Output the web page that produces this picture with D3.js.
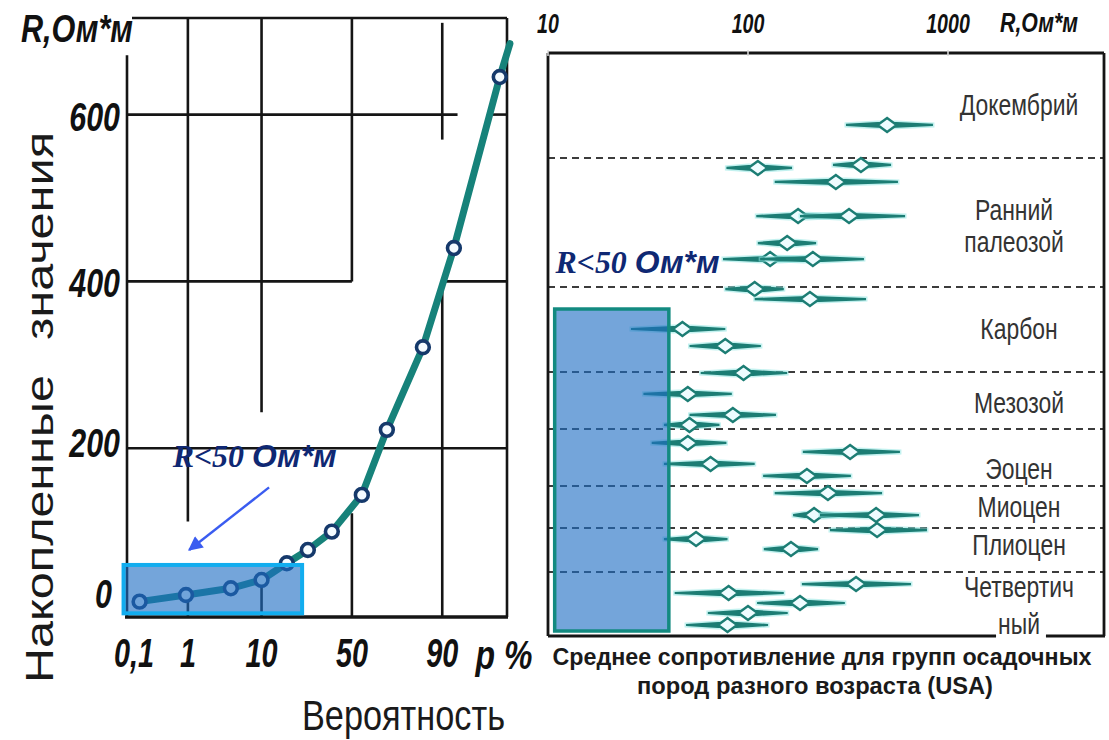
<!DOCTYPE html>
<html><head><meta charset="utf-8">
<script src="https://cdn.jsdelivr.net/npm/d3@7"></script>
<style>body{margin:0;background:#fff} svg{display:block}</style>
</head><body>
<svg id="c" width="1109" height="740"></svg>
<script>
// ---------------- DATA ----------------
// Left chart: cumulative resistance vs. probability (normal probability paper)
const probTicks = [0.1, 1, 10, 50, 90];
const probTickLabels = ["0,1", "1", "10", "50", "90"];
const valueTicks = [0, 200, 400, 600];
const valueTickLabels = ["0", "200", "400", "600"];
const cumProb  = [0.13, 0.93, 4.3, 10, 17.8, 26.6, 38.8, 55.6, 69, 84.3, 92.6, 98.2];
const cumValue = [16, 24, 32, 42, 62, 78, 100, 144, 222, 321, 440, 645];
const tailProb = [98.75];
const tailValue = [685];

// Right chart: mean resistance of sedimentary rock groups (log scale)
const resTicks = [10, 100, 1000];
const resTickLabels = ["10", "100", "1000"];
const groupLabels = ["Докембрий", "Ранний", "палеозой", "Карбон", "Мезозой", "Эоцен", "Миоцен", "Плиоцен", "Четвертич", "ный"];
const groupLabelPos = [3.72, 10.03, 11.95, 17.17, 21.61, 25.57, 27.86, 30.14, 32.66, 34.88];
const groupBounds = [6.3, 14.05, 19.15, 22.57, 25.99, 28.52, 31.16];
const samplePos = [4.32, 6.72, 6.9, 7.74, 9.79, 9.79, 11.41, 12.37, 12.37, 14.17, 14.77, 16.57, 17.59, 19.21, 20.47, 21.73, 22.33, 23.41, 23.95, 24.67, 25.39, 26.42, 27.74, 27.74, 28.64, 29.18, 29.78, 31.88, 32.42, 33.02, 33.62, 34.34];
const resLow   = [309, 266, 78, 136, 110, 182, 112, 75, 115, 77, 108, 26, 51, 58, 30, 51, 38, 33, 188, 38, 119, 136, 168, 229, 257, 38, 120, 186, 43, 111, 63, 49];
const resMean  = [496, 367, 112, 275, 178, 320, 157, 129, 211, 108, 204, 47, 77, 95, 50, 84, 51, 50, 324, 65, 197, 251, 214, 437, 442, 55, 164, 347, 80, 182, 100, 79];
const resHigh  = [841, 519, 166, 562, 305, 610, 219, 216, 380, 151, 389, 77, 116, 157, 83, 138, 72, 78, 575, 108, 327, 468, 324, 716, 785, 79, 224, 653, 151, 305, 158, 126];

// ---------------- HELPERS ----------------
function probit(p) {
  const a=[-3.969683028665376e+01,2.209460984245205e+02,-2.759285104469687e+02,1.383577518672690e+02,-3.066479806614716e+01,2.506628277459239e+00];
  const b=[-5.447609879822406e+01,1.615858368580409e+02,-1.556989798598866e+02,6.680131188771972e+01,-1.328068155288572e+01];
  const c=[-7.784894002430293e-03,-3.223964580411365e-01,-2.400758277161838e+00,-2.549732539343734e+00,4.374664141464968e+00,2.938163982698783e+00];
  const d=[7.784695709041462e-03,3.224671290700398e-01,2.445134137142996e+00,3.754408661907416e+00];
  const pl=0.02425, ph=1-pl; let q,r;
  if (p<pl){q=Math.sqrt(-2*Math.log(p));return (((((c[0]*q+c[1])*q+c[2])*q+c[3])*q+c[4])*q+c[5])/((((d[0]*q+d[1])*q+d[2])*q+d[3])*q+1);}
  if (p>ph){q=Math.sqrt(-2*Math.log(1-p));return -(((((c[0]*q+c[1])*q+c[2])*q+c[3])*q+c[4])*q+c[5])/((((d[0]*q+d[1])*q+d[2])*q+d[3])*q+1);}
  q=p-0.5;r=q*q;return (((((a[0]*r+a[1])*r+a[2])*r+a[3])*r+a[4])*r+a[5])*q/(((((b[0]*r+b[1])*r+b[2])*r+b[3])*r+b[4])*r+1);
}
const SANS = "'Liberation Sans', Arial, sans-serif";
const SERIF = "'Liberation Serif', 'Times New Roman', serif";
function fit(sel, len) { return sel.attr("textLength", len).attr("lengthAdjust", "spacingAndGlyphs"); }
function squeeze(sel, f) {
  sel.each(function () { const w = this.getComputedTextLength(); d3.select(this).attr("textLength", w * f).attr("lengthAdjust", "spacingAndGlyphs"); });
  return sel;
}

const svg = d3.select("#c");
svg.append("rect").attr("width", 1109).attr("height", 740).attr("fill", "#fff");

// ---------------- LEFT CHART ----------------
const L = { x0: 127, x1: 507, y0: 18, y1: 617 };
const zScale = d3.scaleLinear().domain([-3.19, 2.2]).range([L.x0, L.x1]);
const xP = p => zScale(probit(p / 100));
const yV = d3.scaleLinear().domain([-2.4, 715.8]).range([L.y1, L.y0]);

const gL = svg.append("g");
function seg(g, x1, y1, x2, y2, w, col) {
  g.append("line").attr("x1", x1).attr("y1", y1).attr("x2", x2).attr("y2", y2)
    .attr("stroke", col || "#151515").attr("stroke-width", w || 2.6);
}
// grid (partial segments as in the original)
seg(gL, L.x0, yV(600), xP(93.3), yV(600)); seg(gL, xP(97.6), yV(600), L.x1, yV(600));
seg(gL, L.x0, yV(400), xP(50), yV(400));   seg(gL, xP(90), yV(400), L.x1, yV(400));
seg(gL, L.x0, yV(200), L.x1, yV(200));
seg(gL, xP(1), L.y0, xP(1), yV(112));   seg(gL, xP(1), yV(24), xP(1), L.y1);
seg(gL, xP(10), L.y0, xP(10), yV(243)); seg(gL, xP(10), yV(42), xP(10), L.y1);
seg(gL, xP(50), L.y0, xP(50), yV(400)); seg(gL, xP(50), yV(122), xP(50), L.y1);
seg(gL, xP(90), yV(710), xP(90), yV(570)); seg(gL, xP(90), yV(400), xP(90), L.y1);
// frame
seg(gL, L.x1, L.y0, L.x1, L.y1);
seg(gL, L.x0, yV(671), L.x0, L.y1);
seg(gL, 132, L.y0, L.x1, L.y0);
seg(gL, L.x0 - 2, L.y1, L.x1 + 1, L.y1, 3.6);

// curve
const curvePts = cumProb.map((p, i) => [xP(p), yV(cumValue[i])])
  .concat(tailProb.map((p, i) => [xP(p), yV(tailValue[i])]));
gL.append("path").attr("d", d3.line()(curvePts)).attr("fill", "none")
  .attr("stroke", "#16827a").attr("stroke-width", 7).attr("stroke-linejoin", "round").attr("stroke-linecap", "round");
gL.selectAll("circle.pt").data(cumProb).join("circle").attr("class", "pt")
  .attr("cx", p => xP(p)).attr("cy", (p, i) => yV(cumValue[i])).attr("r", 6.4)
  .attr("fill", "#f4fbff").attr("stroke", "#15396b").attr("stroke-width", 3.6);

// highlight box R<50
gL.append("rect").attr("x", xP(0.06)).attr("y", yV(60)).attr("width", xP(24) - xP(0.06)).attr("height", yV(2) - yV(60))
  .attr("fill", "rgb(30,110,195)").attr("fill-opacity", 0.62).attr("stroke", "#12adef").attr("stroke-width", 4);

// arrow
const defs = svg.append("defs");
defs.append("marker").attr("id", "ah").attr("viewBox", "0 0 10 10").attr("refX", 9).attr("refY", 5)
  .attr("markerWidth", 7).attr("markerHeight", 6).attr("orient", "auto-start-reverse").attr("markerUnits", "strokeWidth")
  .append("path").attr("d", "M0,0 L10,5 L0,10 Z").attr("fill", "#3a5cf0");
gL.append("line").attr("x1", xP(12)).attr("y1", yV(153)).attr("x2", xP(1.05)).attr("y2", yV(78))
  .attr("stroke", "#3a5cf0").attr("stroke-width", 2.4).attr("marker-end", "url(#ah)");

// annotation text
function rLabel(g, x, y) {
  const t = g.append("text").attr("x", x).attr("y", y).attr("fill", "#0f2873").attr("font-size", 32).attr("font-weight", "bold").attr("font-style", "italic");
  t.append("tspan").attr("font-family", SERIF).text("R<50 ");
  t.append("tspan").attr("font-family", SANS).text("Ом*м");
  fit(t, 164);
}
rLabel(gL, xP(0.55), yV(178));

// axis labels
const tickFont = s => s.attr("font-family", SANS).attr("font-weight", "bold").attr("font-style", "italic").attr("fill", "#111");
valueTicks.forEach((v, i) => {
  const t = tickFont(gL.append("text")).attr("x", v === 0 ? 112 : 120).attr("y", yV(v) + 16 - (v < 300 ? (300 - v) * 0.075 : 0))
    .attr("text-anchor", "end").attr("font-size", 40).text(valueTickLabels[i]);
  squeeze(t, 0.76);
});
probTicks.forEach((p, i) => {
  const t = tickFont(gL.append("text")).attr("x", xP(p)).attr("y", 667)
    .attr("text-anchor", "middle").attr("font-size", 40).text(probTickLabels[i]);
  squeeze(t, 0.72);
});
squeeze(tickFont(gL.append("text")).attr("x", 504).attr("y", 669).attr("text-anchor", "middle").attr("font-size", 40).text("p %"), 0.8);
fit(tickFont(gL.append("text")).attr("x", 21).attr("y", 42).attr("font-size", 38).text("R,Ом*м"), 112);

fit(gL.append("text").attr("x", 302).attr("y", 730).attr("font-family", SANS).attr("font-size", 42).attr("fill", "#1a1a1a").text("Вероятность"), 203);
fit(gL.append("text").attr("transform", "translate(53,683) rotate(-90)").attr("font-family", SANS).attr("font-size", 38).attr("fill", "#1a1a1a").text("Накопленные"), 308);
fit(gL.append("text").attr("transform", "translate(53,340) rotate(-90)").attr("font-family", SANS).attr("font-size", 38).attr("fill", "#1a1a1a").text("значения"), 208);

// ---------------- RIGHT CHART ----------------
const R = { x0: 548, x1: 1104, y0: 53, y1: 636 };
const xR = d3.scaleLog().domain([10, 6026]).range([R.x0, R.x1]);
const yR = d3.scaleLinear().domain([0, 35]).range([R.y0, R.y1]);
const gR = svg.append("g");

// separators
groupBounds.forEach(b => {
  gR.append("line").attr("x1", R.x0).attr("x2", R.x1).attr("y1", yR(b)).attr("y2", yR(b))
    .attr("stroke", "#3c3c3c").attr("stroke-width", 2).attr("stroke-dasharray", "7,5");
});

// samples: tapered range bars with diamond means
const teal = "#1c7d74";
samplePos.forEach((pos, i) => {
  const y = yR(pos), lo = xR(resLow[i]), m = xR(resMean[i]), hi = xR(resHigh[i]);
  const hw = 9.5, hh = 7, th = 2.9;
  const poly = [[lo, y - 1.1], [m - hw, y - th], [m + hw, y - th], [hi, y - 1.1], [hi, y + 1.1], [m + hw, y + th], [m - hw, y + th], [lo, y + 1.1]];
  const d = "M" + poly.map(p => p.join(",")).join("L") + "Z";
  gR.append("path").attr("d", d).attr("fill", "none").attr("stroke", "#8fe6e2").attr("stroke-width", 3).attr("stroke-opacity", 0.55);
  gR.append("path").attr("d", d).attr("fill", teal);
  gR.append("path").attr("d", `M${m - hw},${y}L${m},${y - hh}L${m + hw},${y}L${m},${y + hh}Z`)
    .attr("fill", "#eefcff").attr("stroke", teal).attr("stroke-width", 2.4);
});

// highlight box
gR.append("rect").attr("x", xR(10.8)).attr("y", yR(15.37)).attr("width", xR(40.2) - xR(10.8)).attr("height", yR(34.7) - yR(15.37))
  .attr("fill", "rgb(30,110,195)").attr("fill-opacity", 0.62).attr("stroke", "#138a80").attr("stroke-width", 3.5);
rLabel(gR, xR(10.9), yR(13.2));

// group labels
let nyi = null;
groupLabels.forEach((lab, i) => {
  const t = gR.append("text").attr("x", 1019 + (i === 1 || i === 2 ? -5 : 0)).attr("y", yR(groupLabelPos[i]))
    .attr("text-anchor", "middle").attr("font-family", SANS).attr("font-size", 29).attr("fill", "#333").text(lab);
  squeeze(t, 0.79);
  if (i === groupLabels.length - 1) nyi = t;
});

// frame
const bb = nyi.node().getBBox();
seg(gR, R.x0, R.y0, R.x1, R.y0, 2.8);
seg(gR, R.x0, R.y0, R.x0, R.y1, 2.8);
seg(gR, R.x1, R.y0, R.x1, R.y1, 2.8);
seg(gR, R.x0, R.y1, bb.x - 2, R.y1, 3);
seg(gR, bb.x + bb.width + 6, R.y1, R.x1 + 1, R.y1, 3);
resTicks.forEach(v => seg(gR, xR(v), R.y0 - 3, xR(v), R.y0 + 3, 1.5, "#ddd"));

// top axis labels
resTicks.forEach((v, i) => {
  const t = tickFont(gR.append("text")).attr("x", xR(v)).attr("y", 33).attr("text-anchor", "middle").attr("font-size", 28).text(resTickLabels[i]);
  squeeze(t, 0.7);
});
fit(tickFont(gR.append("text")).attr("x", 1000).attr("y", 32).attr("font-size", 27).text("R,Ом*м"), 78);

// caption
fit(gR.append("text").attr("x", 822).attr("y", 665).attr("text-anchor", "middle").attr("font-family", SANS).attr("font-weight", "bold").attr("font-size", 24).attr("fill", "#1a1a1a").text("Среднее сопротивление для групп осадочных"), 539);
fit(gR.append("text").attr("x", 815).attr("y", 694).attr("text-anchor", "middle").attr("font-family", SANS).attr("font-weight", "bold").attr("font-size", 24).attr("fill", "#1a1a1a").text("пород разного возраста (USA)"), 356);
</script>
</body></html>
